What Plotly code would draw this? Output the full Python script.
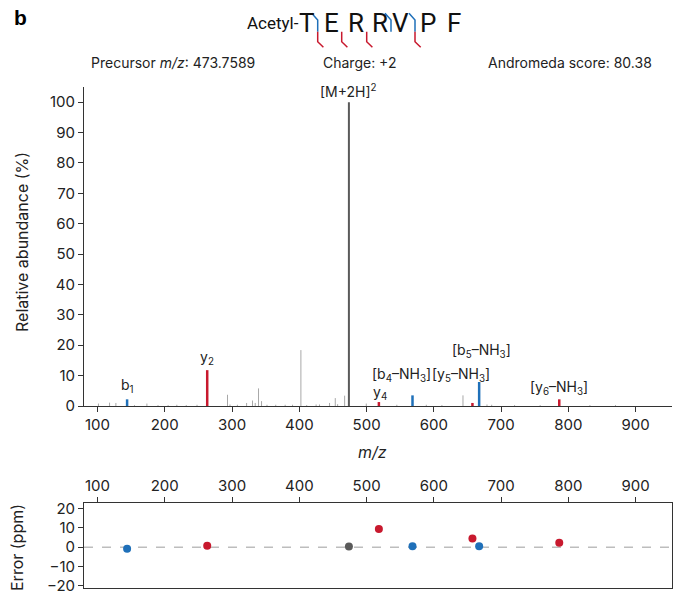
import plotly.graph_objects as go

# ---------------- data ----------------
# unannotated spectrum peaks (m/z, relative abundance %)
noise_mz = [101.5, 118, 127.4, 155, 173.5, 190, 205, 218, 232, 248, 293.3, 297, 308,
            321.7, 330.5, 334.5, 339.4, 343.9, 352, 365, 379, 390, 402.4, 411, 425,
            430, 445, 453.5, 457, 467.4, 499.6, 545, 588.8, 612, 643.3, 679, 686,
            720, 758, 832, 870]
noise_int = [0.8, 1.1, 1.0, 0.3, 0.8, 0.3, 0.3, 0.4, 0.3, 0.4, 3.7, 0.5, 0.4,
             1.0, 1.8, 1.0, 5.8, 1.6, 0.4, 0.4, 0.4, 0.4, 18.4, 0.3, 0.5,
             0.5, 1.0, 2.6, 0.6, 3.4, 0.8, 0.4, 0.4, 0.3, 3.5, 0.5, 0.4,
             0.3, 0.3, 0.3, 0.3]

# annotated fragment ions
b_mz = [144.07, 568.28, 667.35]
b_int = [2.2, 3.5, 7.9]
b_err = [-0.9, 0.5, 0.5]
b_labels = ["b<sub>1</sub>", "[b<sub>4</sub>–NH<sub>3</sub>]", "[b<sub>5</sub>–NH<sub>3</sub>]"]

y_mz = [263.14, 518.31, 657.38, 786.43]
y_int = [11.8, 1.3, 1.0, 2.2]
y_err = [0.7, 9.4, 4.5, 2.3]
y_labels = ["y<sub>2</sub>", "y<sub>4</sub>", "[y<sub>5</sub>–NH<sub>3</sub>]", "[y<sub>6</sub>–NH<sub>3</sub>]"]

prec_mz = [473.76]
prec_int = [100]
prec_err = [0.35]
prec_labels = ["[M+2H]<sup>2</sup>"]

x_ticks = [100, 200, 300, 400, 500, 600, 700, 800, 900]
y_ticks = [0, 10, 20, 30, 40, 50, 60, 70, 80, 90, 100]
err_ticks = [-20, -10, 0, 10, 20]

sequence = ["T", "E", "R", "R", "V", "P", "F"]

BLUE = "#1f70b9"
RED = "#c8192e"
GRAY = "#5a5a5a"
LIGHT = "#a8a8a8"
FONT = "Inter"

W, H = 678, 599
ML, MR, MT, MB = 84, 6, 87, 11
PW, PH = W - ML - MR, H - MT - MB


def px(x):
    return (x - ML) / PW


def py(y):
    return (H - MB - y) / PH


def sticks(xs, ys):
    X, Y = [], []
    for a, b in zip(xs, ys):
        X += [a, a, None]
        Y += [0, b, None]
    return X, Y


fig = go.Figure()

nx, ny = sticks(noise_mz, noise_int)
fig.add_trace(go.Scatter(x=nx, y=ny, mode="lines", line=dict(color=LIGHT, width=1),
                         hoverinfo="skip", showlegend=False))
for xs, ys, col, w in [(prec_mz, prec_int, GRAY, 2), (b_mz, b_int, BLUE, 2.5), (y_mz, y_int, RED, 2.5)]:
    X, Y = sticks(xs, ys)
    fig.add_trace(go.Scatter(x=X, y=Y, mode="lines", line=dict(color=col, width=w),
                             showlegend=False))

# error panel
for xs, es, col in [(prec_mz, prec_err, GRAY), (b_mz, b_err, BLUE), (y_mz, y_err, RED)]:
    fig.add_trace(go.Scatter(x=xs, y=es, mode="markers", xaxis="x2", yaxis="y2",
                             marker=dict(color=col, size=8), showlegend=False))

# peak labels
lab_font = dict(family=FONT, size=14, color="#222")
label_specs = [
    (prec_mz[0], prec_int[0], prec_labels[0], 0, 0),
    (b_mz[0], b_int[0], b_labels[0], 0, 2),
    (b_mz[1], b_int[1], b_labels[1], -11, 9),
    (b_mz[2], b_int[2], b_labels[2], 2, 20),
    (y_mz[0], y_int[0], y_labels[0], 0, 1),
    (y_mz[1], y_int[1], y_labels[1], 1, -2),
    (y_mz[2], y_int[2], y_labels[2], -11, 17),
    (y_mz[3], y_int[3], y_labels[3], 0, 0),
]
for mz, h, txt, xs, ys in label_specs:
    fig.add_annotation(x=mz, y=h, xref="x", yref="y", text=txt, showarrow=False,
                       xanchor="center", yanchor="bottom", xshift=xs, yshift=ys,
                       font=lab_font)


def paper_text(x, y, text, font, angle=0, xanchor="center"):
    fig.add_annotation(x=px(x), y=py(y), xref="paper", yref="paper", text=text,
                       showarrow=False, xanchor=xanchor, yanchor="middle",
                       textangle=angle, font=font)


title_font = dict(family=FONT, size=16, color="#222")
# axis titles
paper_text(22, 242, "Relative abundance (%)", title_font, angle=-90)
paper_text(372, 452, "<i>m/z</i>", title_font)
paper_text(17, 548, "Error (ppm)", title_font, angle=-90)

# header
paper_text(20, 18, "<b>b</b>", dict(family="Liberation Sans", size=21, color="#000"))
paper_text(301, 22.5, "Acetyl-", dict(family="Roboto", size=17, color="#111"), xanchor="right")
letter_x = [306.7, 331, 356, 380, 400, 427.5, 453.5]
for lx, letter in zip(letter_x, sequence):
    paper_text(lx, 22.5, letter, dict(family="Roboto", size=26, color="#111"))

blue_gaps = [317.7, 391, 415]
red_gaps = [317.7, 341.7, 366.7, 415]
for g in blue_gaps:
    pts = [(g - 6, 13.3), (g, 20), (g, 31.7)]
    path = "M " + " L ".join(f"{px(a)},{py(b)}" for a, b in pts)
    fig.add_shape(type="path", path=path, xref="paper", yref="paper",
                  line=dict(color=BLUE, width=1.5))
for g in red_gaps:
    pts = [(g, 31.7), (g, 41.7), (g + 5.7, 47.3)]
    path = "M " + " L ".join(f"{px(a)},{py(b)}" for a, b in pts)
    fig.add_shape(type="path", path=path, xref="paper", yref="paper",
                  line=dict(color=RED, width=1.5))

info_font = dict(family=FONT, size=14, color="#222")
paper_text(173, 62, "Precursor <i>m/z</i>: 473.7589", info_font)
paper_text(359, 62, "Charge: +2", info_font)
paper_text(570, 62, "Andromeda score: 80.38", info_font)

# zero line in error panel
fig.add_shape(type="line", xref="x2 domain", yref="y2", x0=0, x1=1, y0=0, y1=0,
              line=dict(color="#bdbdbd", width=1.5, dash="dash"), layer="below")

tick_font = dict(family=FONT, size=15, color="#222")
axis_common = dict(showgrid=False, zeroline=False, showline=True, linecolor="#333",
                   linewidth=1, ticks="outside", ticklen=5, tickcolor="#333",
                   tickfont=tick_font, automargin=False)
xr = [80, 954]

fig.update_layout(
    width=W, height=H,
    margin=dict(l=ML, r=MR, t=MT, b=MB),
    paper_bgcolor="white", plot_bgcolor="white",
    font=dict(family=FONT, color="#222"),
    xaxis=dict(domain=[0, 1], range=xr, anchor="y", tickvals=x_ticks, **axis_common),
    yaxis=dict(domain=[py(406), 1], range=[0, 105], anchor="x", tickvals=y_ticks, **axis_common),
    xaxis2=dict(domain=[0, 1], range=xr, anchor="y2", side="top", tickvals=x_ticks,
                mirror=True, **axis_common),
    yaxis2=dict(domain=[0, py(503)], range=[-21.3, 23], anchor="x2", tickvals=err_ticks,
                mirror=True, **axis_common),
)

fig.write_html("out.html", config={"displayModeBar": False},
               post_script="document.body.style.margin='0px';")
